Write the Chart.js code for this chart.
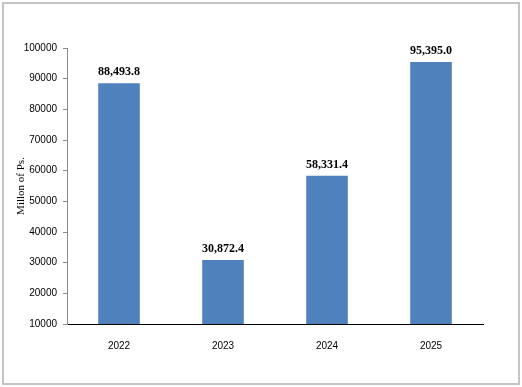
<!DOCTYPE html>
<html lang="en">
<head>
    <meta charset="UTF-8">
    <title>Millon of Ps.</title>
    <script src="https://cdn.jsdelivr.net/npm/chart.js"></script>
    <style>
        html, body { margin: 0; padding: 0; background: #fff; }
        #wrap { width: 522px; height: 387px; position: relative; }
    </style>
</head>
<body>
    <div id="wrap"><canvas id="barChart"></canvas></div>

    <script>
        // chart data
        let years = ['2022', '2023', '2024', '2025'];
        let amounts = [88493.8, 30872.4, 58331.4, 95395.0];
        let amountLabels = ['88,493.8', '30,872.4', '58,331.4', '95,395.0'];

        // grey frame around the whole picture
        let framePlugin = {
            id: 'frame',
            beforeDraw(chart) {
                let c = chart.ctx;
                c.save();
                c.fillStyle = '#fff';
                c.fillRect(0, 0, chart.width, chart.height);
                c.strokeStyle = '#c4c4c4';
                c.lineWidth = 2;
                c.strokeRect(3, 3, chart.width - 6, chart.height - 6);
                c.restore();
            }
        };

        // value labels above the bars
        let valuePlugin = {
            id: 'values',
            afterDatasetsDraw(chart) {
                let c = chart.ctx;
                let meta = chart.getDatasetMeta(0);
                c.save();
                c.font = 'bold 12px "Liberation Serif", "Times New Roman", serif';
                c.fillStyle = '#000';
                c.textAlign = 'center';
                c.textBaseline = 'bottom';
                meta.data.forEach((bar, i) => {
                    c.fillText(amountLabels[i], bar.x, bar.y - 5);
                });
                c.restore();
            }
        };

        let ctx = document.getElementById('barChart').getContext('2d');
        let barChart = new Chart(ctx, {
            type: 'bar',
            data: {
                labels: years,
                datasets: [{
                    data: amounts,
                    backgroundColor: '#4f81bd',
                    borderWidth: 0,
                    barPercentage: 0.4,
                    categoryPercentage: 1.0
                }]
            },
            options: {
                responsive: true,
                maintainAspectRatio: false,
                animation: false,
                layout: { padding: { top: 48, right: 39, left: 0, bottom: 0 } },
                plugins: {
                    legend: { display: false },
                    tooltip: { enabled: false }
                },
                scales: {
                    x: {
                        afterFit: s => { s.height = 63; },
                        grid: { display: false },
                        border: { display: true, color: '#000', width: 1 },
                        ticks: {
                            padding: 8,
                            color: '#000',
                            font: { family: 'Arial, "Liberation Sans", sans-serif', size: 10 }
                        }
                    },
                    y: {
                        min: 10000,
                        max: 100000,
                        afterFit: s => { s.width = 67; },
                        grid: { drawOnChartArea: false, drawTicks: true, tickLength: 4, color: '#8c8c8c' },
                        border: { display: true, color: '#8c8c8c', width: 1 },
                        ticks: {
                            stepSize: 10000,
                            padding: 6,
                            color: '#000',
                            font: { family: 'Arial, "Liberation Sans", sans-serif', size: 10 },
                            callback: v => String(v)
                        },
                        title: {
                            display: true,
                            text: 'Millon of Ps.',
                            color: '#000',
                            padding: { top: 15, bottom: 0 },
                            font: { family: '"Liberation Serif", "Times New Roman", serif', size: 11 }
                        }
                    }
                }
            },
            plugins: [framePlugin, valuePlugin]
        });
    </script>
</body>
</html>
